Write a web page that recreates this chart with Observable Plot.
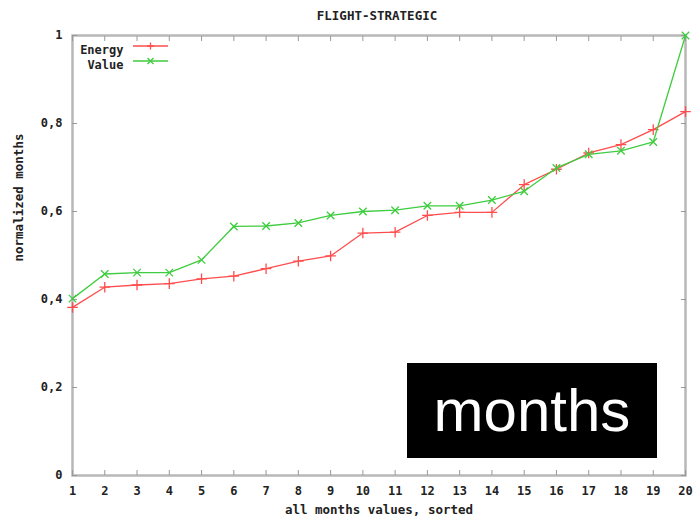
<!DOCTYPE html>
<html>
<head>
<meta charset="utf-8">
<script src="https://cdn.jsdelivr.net/npm/d3@7"></script>
<script src="https://cdn.jsdelivr.net/npm/@observablehq/plot@0.6"></script>
<style>
  html, body { margin: 0; padding: 0; background: #fff; }
  #wrap { position: relative; width: 698px; height: 523px; }
  #overlay {
    position: absolute; left: 407px; top: 363px; width: 250px; height: 95px;
    background: #000; color: #fff; font-family: "Liberation Sans", Arial, sans-serif;
    font-size: 60px; line-height: 95px; text-align: center;
  }
</style>
</head>
<body>
<div id="wrap"></div>
<script>
const months = d3.range(1, 21);
const energy = [0.382, 0.428, 0.433, 0.436, 0.447, 0.453, 0.470, 0.487, 0.499, 0.551,
                0.553, 0.591, 0.598, 0.598, 0.661, 0.696, 0.733, 0.752, 0.786, 0.827];
const value  = [0.402, 0.458, 0.461, 0.461, 0.490, 0.566, 0.567, 0.574, 0.591, 0.600,
                0.603, 0.613, 0.613, 0.626, 0.646, 0.699, 0.730, 0.738, 0.758, 1.000];
const yTicks = [0, 0.2, 0.4, 0.6, 0.8, 1];
const title = "FLIGHT-STRATEGIC";
const xLabel = "all months values, sorted";
const yLabel = "normalized months";
const seriesNames = ["Energy", "Value"];
const colors = ["#ff4d4d", "#3fcc3f"];

const eData = months.map((m, i) => ({m, v: energy[i]}));
const vData = months.map((m, i) => ({m, v: value[i]}));

const font = "DejaVu Sans Mono, monospace";
const fmt = d => (d === 0 ? "0" : d === 1 ? "1" : String(d).replace(".", ","));

const plot = Plot.plot({
  width: 698,
  height: 523,
  marginLeft: 72,
  marginRight: 13,
  marginTop: 35,
  marginBottom: 48,
  style: {fontFamily: font, fontSize: "12px", fontWeight: "bold", color: "#222", background: "#fff"},
  x: {domain: [1, 20]},
  y: {domain: [0, 1]},
  marks: [
    Plot.frame({stroke: "#b8b8b8", strokeWidth: 2.5}),
    Plot.axisX(months, {anchor: "bottom", tickSize: -5, tickPadding: 16, stroke: "#999", label: null, tickFormat: d => String(d), fontWeight: "bold", fontSize: 12}),
    Plot.axisX(months, {anchor: "top", tickSize: -5, stroke: "#999", label: null, tickFormat: () => ""}),
    Plot.axisY(yTicks, {anchor: "left", tickSize: -5, tickPadding: 15, stroke: "#999", label: null, tickFormat: fmt, fontWeight: "bold", fontSize: 12}),
    Plot.axisY(yTicks, {anchor: "right", tickSize: -5, stroke: "#999", label: null, tickFormat: () => ""}),
    Plot.text([title], {frameAnchor: "top", dy: -24, dx: -2, fontWeight: "bold", fontSize: 12.5}),
    Plot.text([xLabel], {frameAnchor: "bottom", dy: 38, fontWeight: "bold", fontSize: 12.5}),
    Plot.text([yLabel], {frameAnchor: "left", dx: -54, dy: 6, rotate: -90, fontWeight: "bold", fontSize: 12.5}),
    Plot.line(eData, {x: "m", y: "v", stroke: colors[0], strokeWidth: 1.3}),
    Plot.dot(eData, {x: "m", y: "v", symbol: "plus", r: 3.5, stroke: colors[0], strokeWidth: 1.3}),
    Plot.line(vData, {x: "m", y: "v", stroke: colors[1], strokeWidth: 1.3}),
    Plot.dot(vData, {x: "m", y: "v", symbol: "times", r: 3.5, stroke: colors[1], strokeWidth: 1.3}),
    // legend labels
    Plot.text([seriesNames[0]], {frameAnchor: "top-left", dx: 51, dy: 10, textAnchor: "end", fontWeight: "bold", fontSize: 12}),
    Plot.text([seriesNames[1]], {frameAnchor: "top-left", dx: 51, dy: 25, textAnchor: "end", fontWeight: "bold", fontSize: 12}),
  ]
});

// Legend samples (line + marker)
const svg = d3.select(plot);
const legendG = svg.append("g");
seriesNames.forEach((name, i) => {
  const y = 35 + 11 + i * 15;
  legendG.append("line").attr("x1", 133).attr("x2", 168).attr("y1", y).attr("y2", y)
    .attr("stroke", colors[i]).attr("stroke-width", 1.3);
  const cx = 150.5;
  if (i === 0) {
    legendG.append("path").attr("d", `M${cx-3.5},${y}H${cx+3.5}M${cx},${y-3.5}V${y+3.5}`)
      .attr("stroke", colors[i]).attr("stroke-width", 1.3);
  } else {
    legendG.append("path").attr("d", `M${cx-3},${y-3}L${cx+3},${y+3}M${cx-3},${y+3}L${cx+3},${y-3}`)
      .attr("stroke", colors[i]).attr("stroke-width", 1.3);
  }
});

const wrap = document.getElementById("wrap");
wrap.appendChild(plot);
const ov = document.createElement("div");
ov.id = "overlay";
ov.textContent = "months";
wrap.appendChild(ov);
</script>
</body>
</html>
